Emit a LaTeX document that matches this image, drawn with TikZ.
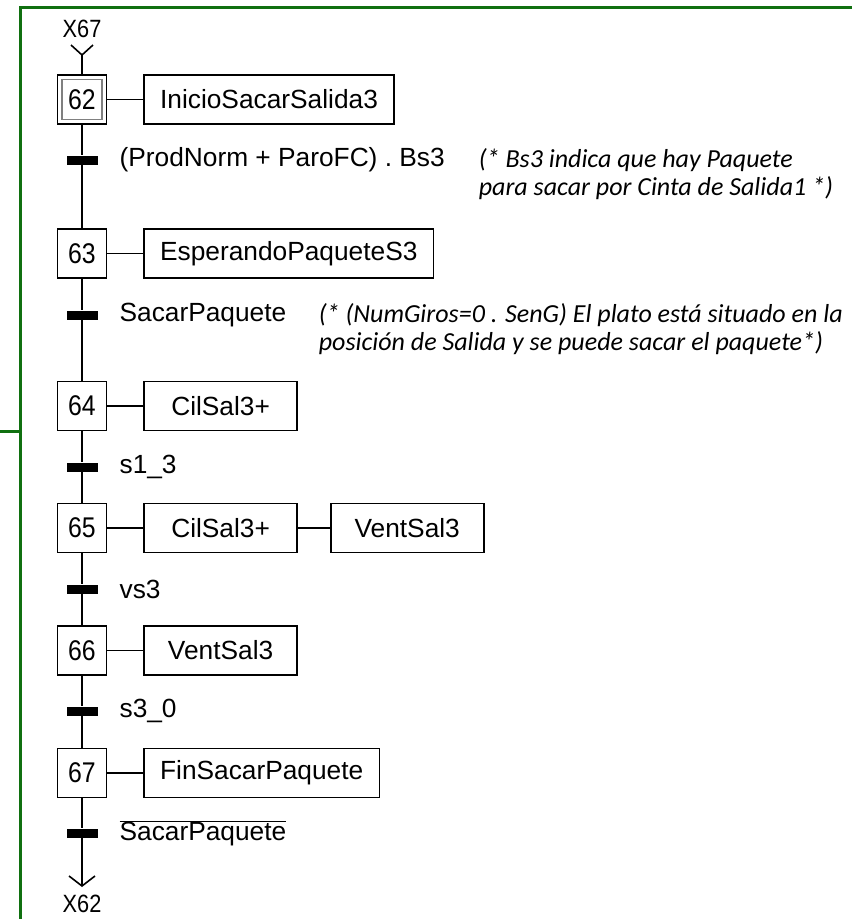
\documentclass[tikz,border=0pt]{standalone}
\usepackage{fontspec}
\setmainfont{Liberation Sans}
\newfontfamily\narrowfont{Liberation Sans}[FakeStretch=0.87]
\newfontfamily\notefont{Carlito}
\usepackage{xcolor}
\usetikzlibrary{arrows.meta,positioning}
\definecolor{verdemarco}{RGB}{16,112,16}
\tikzset{
  etapa/.style={draw, line width=1.6pt, minimum size=49pt, inner sep=0pt,
    font=\narrowfont\fontsize{28.5}{28.5}\selectfont},
  accion/.style={draw, line width=1.6pt, minimum height=49pt, minimum width=153pt,
    inner xsep=16pt, inner ysep=0pt, font=\fontsize{26.3}{30}\selectfont},
  trans/.style={fill, minimum width=31pt, minimum height=9pt, inner sep=0pt},
  cond/.style={inner sep=0pt, anchor=west, font=\fontsize{26.3}{30}\selectfont},
  nota/.style={inner sep=0pt, anchor=north west, align=left,
    font=\notefont\itshape\fontsize{26}{28}\selectfont},
  etiq/.style={inner sep=0pt, font=\narrowfont\fontsize{25}{25}\selectfont},
  marco/.style={verdemarco, line width=3pt},
  every picture/.style={line width=1.6pt}
}

\begin{document}
\begin{tikzpicture}[x=1pt,y=-1pt]
  \useasboundingbox (0,0) rectangle (852,919);

  % marco verde
  \draw[marco] (852,7) -- (20,7) -- (20,919);
  \draw[marco] (0,431) -- (20,431);

  % etapas
  \node[etapa] (e62) at (82,99.5) {};
  \node[draw=gray, line width=1.2pt, minimum size=40pt, inner sep=0pt,
    font=\narrowfont\fontsize{28.5}{28.5}\selectfont] (e62i) at (e62) {62};
  \node[etapa] (e63) at (82,253.5) {63};
  \node[etapa] (e64) at (82,406) {64};
  \node[etapa] (e65) at (82,528) {65};
  \node[etapa] (e66) at (82,650.5) {66};
  \node[etapa] (e67) at (82,773) {67};

  % acciones
  \node[accion, right=36pt of e62] (a62) {InicioSacarSalida3};
  \node[accion, right=36pt of e63] (a63) {EsperandoPaqueteS3};
  \node[accion, right=36pt of e64] (a64) {CilSal3+};
  \node[accion, right=36pt of e65] (a65) {CilSal3+};
  \node[accion, right=32pt of a65] (a65b) {VentSal3};
  \node[accion, right=36pt of e66] (a66) {VentSal3};
  \node[accion, right=36pt of e67] (a67) {FinSacarPaquete};

  \draw (e62) -- (a62);
  \draw (e63) -- (a63);
  \draw (e64) -- (a64);
  \draw (e65) -- (a65);
  \draw (a65) -- (a65b);
  \draw (e66) -- (a66);
  \draw (e67) -- (a67);

  % transiciones
  \node[trans] (t62) at (82,160) {};
  \node[trans] (t63) at (82,315) {};
  \node[trans] (t64) at (82,467) {};
  \node[trans] (t65) at (82,589) {};
  \node[trans] (t66) at (82,711) {};
  \node[trans] (t67) at (82,833) {};

  \node[cond, right=20.5pt of t62] (c62) {(ProdNorm + ParoFC) . Bs3};
  \node[cond, right=20.5pt of t63] (c63) {SacarPaquete};
  \node[cond, right=20.5pt of t64] (c64) {s1\_3};
  \node[cond, right=20.5pt of t65] (c65) {vs3};
  \node[cond, right=20.5pt of t66] (c66) {s3\_0};
  \node[cond, right=20.5pt of t67] (c67) {$\overline{\mbox{SacarPaquete}}$};

  \node[nota] (n62) at (478,148) {(* Bs3 indica que hay Paquete\\para sacar por Cinta de Salida1 *)};
  \node[nota] (n63) at (318,303) {(* (NumGiros=0 . SenG) El plato está situado en la\\posición de Salida y se puede sacar el paquete*)};

  % secuencia
  \draw (e62) -- (t62) -- (e63) -- (t63) -- (e64) -- (t64) -- (e65)
    -- (t65) -- (e66) -- (t66) -- (e67) -- (t67);

  % entrada desde X67
  \node[etiq] (x67) at (82,29) {X67};
  \coordinate (in62) at (82,55);
  \draw (71,45) -- (in62) -- (93,45);
  \draw (in62) -- (e62);

  % salida hacia X62
  \coordinate (out67) at (82,887);
  \draw[-{Straight Barb[length=10pt, width=26pt]}] (t67) -- (out67);
  \node[etiq] (x62) at (82,904) {X62};
\end{tikzpicture}
\end{document}
